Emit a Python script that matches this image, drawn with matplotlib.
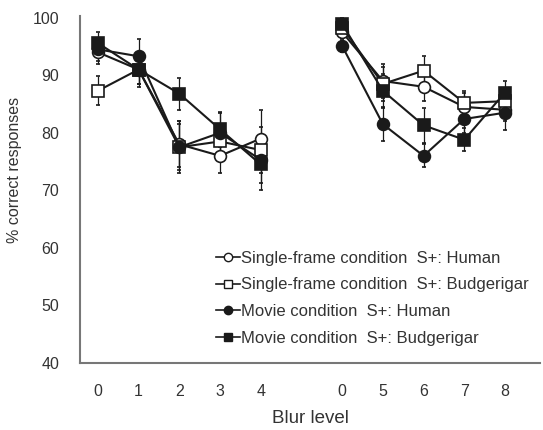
import matplotlib
matplotlib.use("Agg")
import matplotlib.pyplot as plt
from matplotlib.lines import Line2D

plt.rcParams['font.family'] = ['Liberation Sans', 'DejaVu Sans']

# Blur levels (two blocks)
blur_left = ['0', '1', '2', '3', '4']
blur_right = ['0', '5', '6', '7', '8']

series_names = [
    "Single-frame condition  S+: Human",
    "Single-frame condition  S+: Budgerigar",
    "Movie condition  S+: Human",
    "Movie condition  S+: Budgerigar",
]

# Left block values
sf_human_left = [94.0, 91.0, 78.0, 76.0, 79.0]
sf_budg_left = [87.3, 91.0, 77.5, 78.5, 77.0]
mv_human_left = [94.5, 93.3, 77.5, 80.0, 75.3]
mv_budg_left = [95.6, 91.0, 86.8, 80.6, 74.5]

# Right block values
sf_human_right = [97.5, 89.0, 88.0, 84.5, 84.0]
sf_budg_right = [98.3, 88.5, 90.8, 85.2, 85.5]
mv_human_right = [95.1, 81.5, 76.0, 82.4, 83.5]
mv_budg_right = [98.9, 87.3, 81.3, 78.8, 87.0]

# Standard errors
sf_human_left_err = [2.0, 2.5, 4.0, 3.0, 5.0]
sf_budg_left_err = [2.5, 2.5, 4.0, 3.0, 4.0]
mv_human_left_err = [2.0, 3.0, 4.5, 3.5, 4.0]
mv_budg_left_err = [2.0, 3.0, 2.8, 3.0, 4.5]
sf_human_right_err = [1.0, 3.0, 2.5, 2.5, 2.0]
sf_budg_right_err = [1.0, 3.0, 2.5, 2.0, 2.0]
mv_human_right_err = [1.0, 3.0, 2.0, 2.5, 3.0]
mv_budg_right_err = [1.0, 3.0, 3.0, 2.0, 2.0]

fig = plt.figure(figsize=(5.43, 4.30), dpi=100)
ax = fig.add_axes([80/543, (430-363)/430, (540-80)/543, (363-16)/430])

xl = [0, 1, 2, 3, 4]
xr = [6, 7, 8, 9, 10]
dark = '#1a1a1a'

styles = [
    dict(marker='o', mfc='white'),
    dict(marker='s', mfc='white'),
    dict(marker='o', mfc=dark),
    dict(marker='s', mfc=dark),
]
left_data = [sf_human_left, sf_budg_left, mv_human_left, mv_budg_left]
right_data = [sf_human_right, sf_budg_right, mv_human_right, mv_budg_right]
left_err = [sf_human_left_err, sf_budg_left_err, mv_human_left_err, mv_budg_left_err]
right_err = [sf_human_right_err, sf_budg_right_err, mv_human_right_err, mv_budg_right_err]

for st, yl, yr, el, er in zip(styles, left_data, right_data, left_err, right_err):
    for xs, ys, es in ((xl, yl, el), (xr, yr, er)):
        ax.errorbar(xs, ys, yerr=es, color=dark, lw=1.5, elinewidth=0.9,
                    capsize=1.5, capthick=0.9, marker=st['marker'],
                    mfc=st['mfc'], mec=dark, mew=1.2, ms=8.5, zorder=3)

ax.set_xlim(-0.44, 10.86)
ax.set_ylim(40, 100.3)
ax.set_yticks([40, 50, 60, 70, 80, 90, 100])
ax.set_xticks(xl + xr)
ax.set_xticklabels(blur_left + blur_right)
ax.tick_params(axis='both', length=0, labelsize=11.5, colors='#333333')
ax.tick_params(axis='x', pad=15)
ax.tick_params(axis='y', pad=15)
for s in ['top', 'right']:
    ax.spines[s].set_visible(False)
for s in ['left', 'bottom']:
    ax.spines[s].set_color('#777777')
    ax.spines[s].set_linewidth(1.5)

ax.set_xlabel('Blur level', fontsize=13.5, color='#333333', labelpad=8)
ax.set_ylabel('% correct responses', fontsize=11.5, color='#333333')
ax.yaxis.set_label_coords(-0.125, 0.556)

handles = [Line2D([], [], color=dark, lw=1.2, marker=st['marker'], mfc=st['mfc'],
                  mec=dark, mew=1.0, ms=6) for st in styles]
leg = ax.legend(handles, series_names, loc='upper left',
                bbox_to_anchor=((209-80)/460, (363-244)/347),
                frameon=False, fontsize=12, handlelength=1.45, handletextpad=0.08,
                labelspacing=0.7, borderaxespad=0)
for t in leg.get_texts():
    t.set_color('#333333')

fig.savefig('out.png', dpi=100)
